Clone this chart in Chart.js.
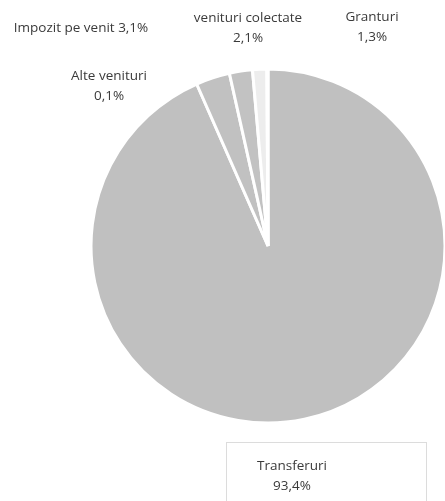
<!DOCTYPE html>
<html>
<head>
<meta charset="utf-8">
<script src="https://cdn.jsdelivr.net/npm/chart.js@4"></script>
<style>
  html, body { margin: 0; padding: 0; background: #fff; overflow: hidden; }
  #wrap { width: 445px; height: 501px; }
</style>
</head>
<body>
<div id="wrap"><canvas id="pieChart" width="445" height="501"></canvas></div>
<script>
// Data
const categories = ["Transferuri", "Impozit pe venit", "venituri colectate", "Granturi", "Alte venituri"];
const shares = [93.4, 3.1, 2.1, 1.3, 0.1];
const sliceColors = ["#c0c0c0", "#c1c1c1", "#c2c2c2", "#ededed", "#d6d6d6"];

// Label placement (pixels), same order as categories
const labelSpots = [
  { x: 292, y: 466, oneLine: false },
  { x: 81, y: 28, oneLine: true },
  { x: 248, y: 18, oneLine: false },
  { x: 372, y: 17, oneLine: false },
  { x: 109, y: 76, oneLine: false }
];

function fmt(v) {
  return v.toFixed(1).replace(".", ",") + "%";
}

// Draw data labels + the box around Transferuri
const labelPlugin = {
  id: "sliceLabels",
  afterDraw(chart) {
    const ctx = chart.ctx;
    ctx.save();
    // box
    ctx.strokeStyle = "#dcdcdc";
    ctx.lineWidth = 1;
    ctx.strokeRect(226.5, 442.5, 200, 70);

    ctx.fillStyle = "#3a3a3a";
    ctx.font = "13.5px 'Open Sans'";
    ctx.textAlign = "center";
    ctx.textBaseline = "middle";
    categories.forEach((c, i) => {
      const p = labelSpots[i];
      const val = fmt(shares[i]);
      if (p.oneLine) {
        ctx.fillText(c + " " + val, p.x, p.y);
      } else {
        ctx.fillText(c, p.x, p.y);
        ctx.fillText(val, p.x, p.y + 20);
      }
    });
    ctx.restore();
  }
};

new Chart(document.getElementById("pieChart"), {
  type: "pie",
  data: {
    labels: categories,
    datasets: [{
      data: shares,
      backgroundColor: sliceColors,
      borderColor: "#ffffff",
      borderWidth: 3,
      radius: 177
    }]
  },
  options: {
    responsive: false,
    animation: false,
    layout: { padding: { left: 91, right: 0, top: 69, bottom: 78 } },
    plugins: {
      legend: { display: false },
      tooltip: { enabled: false }
    }
  },
  plugins: [labelPlugin]
});
</script>
</body>
</html>
